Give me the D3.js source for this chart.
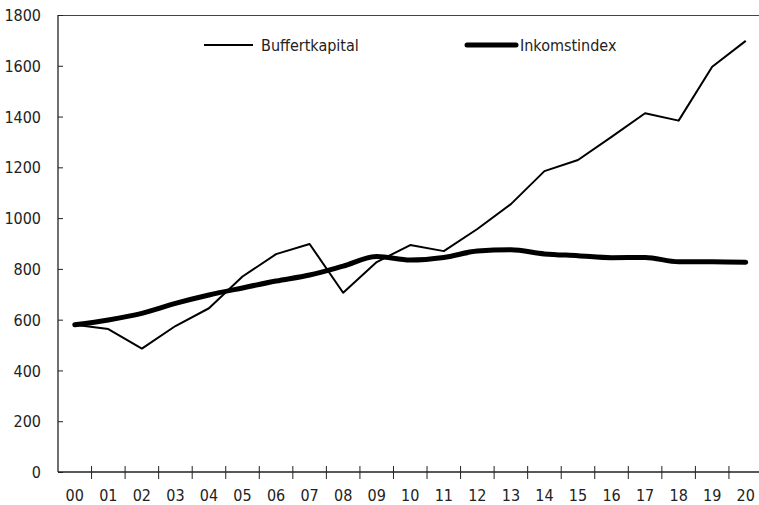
<!DOCTYPE html>
<html>
<head>
<meta charset="utf-8">
<script src="https://cdn.jsdelivr.net/npm/d3@7"></script>
<style>
body { margin: 0; background: #fff; }
svg text { font-family: "Liberation Sans Narrow", "DejaVu Sans Condensed", "DejaVu Sans", sans-serif; font-stretch: condensed; font-size: 16px; fill: #222; }
</style>
</head>
<body>
<div id="chart"></div>
<script>
var years = ["00","01","02","03","04","05","06","07","08","09","10","11","12","13","14","15","16","17","18","19","20"];
var buffert = [580, 563, 486, 575, 645, 770, 858, 898, 706, 827, 894, 870, 957, 1055, 1185, 1229, 1320, 1413, 1384, 1596, 1698];
var inkomst = [580, 599, 625, 664, 697, 725, 752, 776, 811, 849, 835, 845, 870, 875, 859, 852, 844, 845, 828, 828, 826];
var yTicks = [0, 200, 400, 600, 800, 1000, 1200, 1400, 1600, 1800];

var width = 759, height = 505;
var mLeft = 58, mTop = 15, mBottom = 472, mRight = 762.5;

var svg = d3.select("#chart").append("svg").attr("width", width).attr("height", height);

var x = d3.scaleBand().domain(years).range([mLeft, mRight]);
var y = d3.scaleLinear().domain([0, 1800]).range([mBottom, mTop]);

// frame: top line
svg.append("line").attr("x1", mLeft).attr("x2", width).attr("y1", mTop + 0.5).attr("y2", mTop + 0.5)
    .attr("stroke", "#444").attr("stroke-width", 1);

// y axis
var yAxis = svg.append("g").attr("transform", "translate(" + mLeft + ",0)")
    .call(d3.axisRight(y).tickValues(yTicks).tickSize(5).tickFormat(d3.format("d")));
yAxis.select(".domain").remove();
yAxis.selectAll(".tick line").attr("stroke", "#222");
yAxis.selectAll(".tick text").attr("x", -17).attr("text-anchor", "end").attr("dy", "0.35em")
    .attr("font-size", null).attr("font-family", null);
svg.append("line").attr("x1", mLeft).attr("x2", mLeft).attr("y1", mTop).attr("y2", mBottom)
    .attr("stroke", "#222").attr("stroke-width", 1.3);

// x axis with ticks between categories
svg.append("line").attr("x1", mLeft).attr("x2", width).attr("y1", mBottom).attr("y2", mBottom)
    .attr("stroke", "#222").attr("stroke-width", 1.3);
svg.selectAll(".xtick").data(years.slice(1)).enter().append("line")
    .attr("x1", function(d){ return x(d); }).attr("x2", function(d){ return x(d); })
    .attr("y1", mBottom - 6).attr("y2", mBottom + 7)
    .attr("stroke", "#222").attr("stroke-width", 1);
svg.selectAll(".xlab").data(years).enter().append("text")
    .attr("x", function(d){ return x(d) + x.bandwidth() / 2; })
    .attr("y", 501).attr("text-anchor", "middle").text(function(d){ return d; });

// lines
var lineThin = d3.line().x(function(d, i){ return x(years[i]) + x.bandwidth() / 2; }).y(function(d){ return y(d); });
var lineThick = d3.line().x(function(d, i){ return x(years[i]) + x.bandwidth() / 2; }).y(function(d){ return y(d); })
    .curve(d3.curveMonotoneX);

svg.append("path").datum(buffert).attr("d", lineThin).attr("fill", "none")
    .attr("stroke", "#000").attr("stroke-width", 2).attr("stroke-linejoin", "round");
svg.append("path").datum(inkomst).attr("d", lineThick).attr("fill", "none")
    .attr("stroke", "#000").attr("stroke-width", 5).attr("stroke-linecap", "round").attr("stroke-linejoin", "round");

// legend
svg.append("line").attr("x1", 204).attr("x2", 253).attr("y1", 45).attr("y2", 45)
    .attr("stroke", "#000").attr("stroke-width", 2);
svg.append("text").attr("x", 261).attr("y", 51).text("Buffertkapital");
svg.append("line").attr("x1", 467).attr("x2", 516).attr("y1", 45).attr("y2", 45)
    .attr("stroke", "#000").attr("stroke-width", 5).attr("stroke-linecap", "round");
svg.append("text").attr("x", 520).attr("y", 51).text("Inkomstindex");
</script>
</body>
</html>
